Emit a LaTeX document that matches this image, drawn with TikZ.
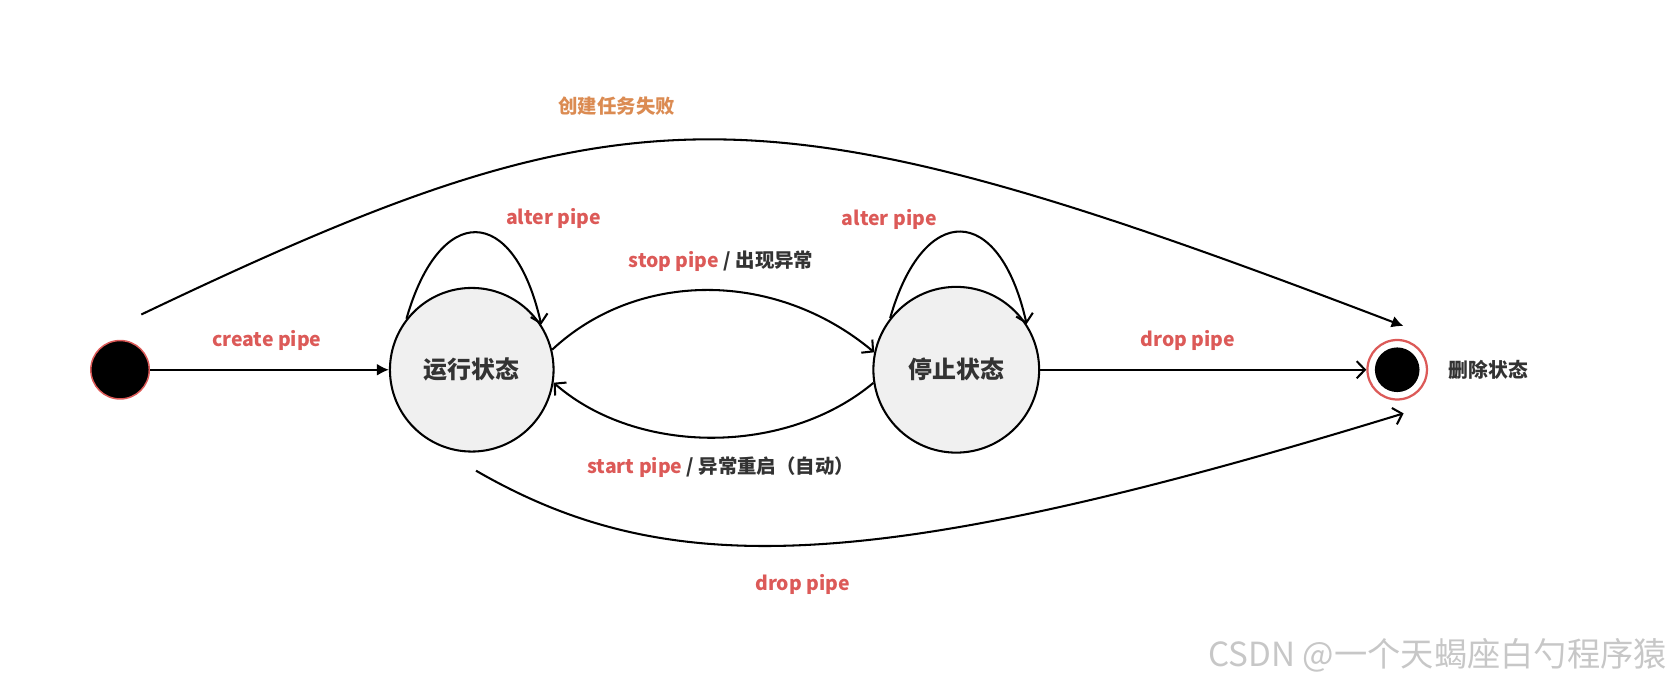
\documentclass[tikz,border=0pt]{standalone}
\usepackage{fontspec}
\setmainfont{Noto Sans CJK SC}
\usetikzlibrary{arrows.meta, positioning}
\definecolor{pipered}{HTML}{DC5A58}
\definecolor{failorange}{HTML}{DB8B52}
\definecolor{statetext}{HTML}{333333}
\definecolor{statefill}{HTML}{F0F0F0}

\begin{document}
\begin{tikzpicture}[line width=0.55pt, >={Straight Barb[length=2.2pt,width=4.6pt]}]
    \tikzstyle{statenode} = [circle, draw=black, fill=statefill, minimum size=1.54cm, inner sep=0pt, text=statetext, font=\fontsize{6.4pt}{7pt}\selectfont\bfseries]
    \tikzstyle{startdot} = [circle, draw=pipered, line width=0.4pt, fill=black, minimum size=0.55cm, inner sep=0pt]
    \tikzstyle{enddot} = [circle, draw=pipered, line width=0.6pt, fill=white, minimum size=0.56cm, inner sep=0pt]
    \tikzstyle{lbl} = [text=pipered, font=\fontsize{5.2pt}{6pt}\selectfont\bfseries]
    \tikzstyle{arrow} = [->]
    \tikzstyle{solidarrow} = [-{Latex[length=3.2pt,width=3.2pt]}]

    \useasboundingbox (0,0) rectangle (15.68,6.38);

    \node (init) [startdot] at (1.13,2.90) {};
    \node (run) [statenode] at (4.44,2.90) {运行状态};
    \node (stop) [statenode, minimum size=1.56cm] at (9.00,2.90) {停止状态};
    \node (final) [enddot] at (13.15,2.90) {};
    \fill [black] (final.center) circle (0.21);
    \node (finallbl) [right=0.07cm of final, text=statetext, font=\fontsize{5.3pt}{6pt}\selectfont\bfseries] {删除状态};
    \coordinate (failstart) at (1.33,3.42);
    \coordinate (failend) at ([xshift=0.6mm,yshift=1.2mm]final.north);
    \coordinate (dropstart) at (4.48,1.95);
    \coordinate (dropend) at ([xshift=0.6mm,yshift=-1.2mm]final.south);

    \draw [solidarrow] (init) -- node[lbl, xshift=-0.25mm, yshift=2.8mm] {create pipe} (run);
    \draw [arrow] (run.142) .. controls +(0.31,1.09) and +(-0.26,1.15) .. node[pos=0.5, lbl, xshift=7.3mm, yshift=1.3mm] {alter pipe} (run.33);
    \draw [arrow] (stop.142) .. controls +(0.31,1.09) and +(-0.26,1.15) .. node[pos=0.5, lbl, xshift=-6.7mm, yshift=1.2mm] {alter pipe} (stop.33);
    \draw [arrow] (run.14) .. controls (6.0,3.84) and (7.3,3.84) .. node[pos=0.5, lbl, xshift=1.2mm, yshift=2.7mm] {stop pipe \textcolor{statetext}{/ 出现异常}} (stop.168);
    \draw [arrow] (stop.189) .. controls (7.4,2.09) and (6.0,2.09) .. node[pos=0.5, lbl, xshift=0.8mm, yshift=-2.8mm] {start pipe \textcolor{statetext}{/ 异常重启（自动）}} (run.-9);
    \draw [arrow] (stop) -- node[lbl, xshift=-1.45mm, yshift=2.8mm] {drop pipe} (final);

    \draw [solidarrow] (failstart) .. controls (5.96,5.63) and (7.14,5.63) .. node[pos=0.4, lbl, text=failorange, xshift=0.4mm, yshift=3.8mm] {创建任务失败} (failend);
    \draw [arrow] (dropstart) .. controls (6.25,0.93) and (8.13,0.93) .. node[pos=0.5, lbl, xshift=-0.5mm, yshift=-3.7mm] {drop pipe} (dropend);

    \node (csdn) [text=black!22, font=\fontsize{8.9pt}{10pt}\selectfont] at (13.53,0.21) {CSDN @一个天蝎座白勺程序猿};
\end{tikzpicture}
\end{document}
